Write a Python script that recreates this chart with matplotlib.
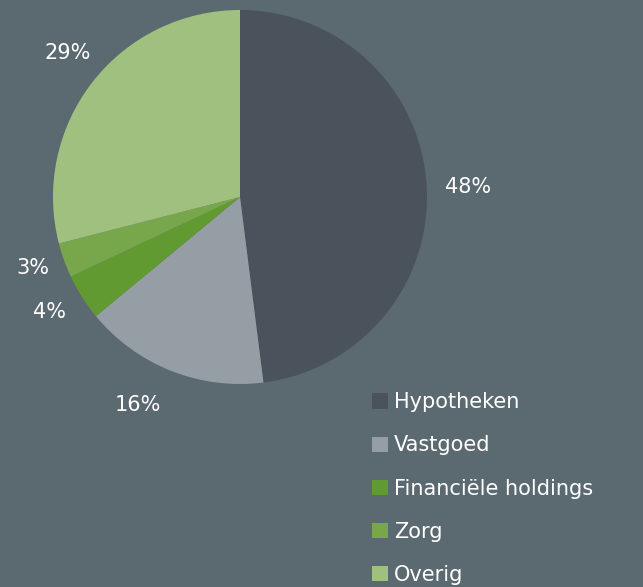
import matplotlib; matplotlib.use('agg')
import matplotlib.pyplot as plt
from matplotlib.patches import Patch
import numpy as np

# data
labels = ['Hypotheken', 'Vastgoed', 'Financiële holdings', 'Zorg', 'Overig']
shares = [48, 16, 4, 3, 29]
colors = ['#4a535b', '#959ea5', '#629a32', '#78a74b', '#a0c080']
bg = '#5b6970'

# label placement tweaks (degrees shift from wedge middle, radius)
lab_shift = [-1.0, -4.5, -1.4, -0.8, -2.0]
lab_rad = [1.22, 1.24, 1.19, 1.17, 1.20]

plt.rcParams['font.family'] = ['DejaVu Sans']

fig = plt.figure(figsize=(6.43, 5.87), dpi=100, facecolor=bg)
# pie centre at about (240, 197) px, radius 187 px
ax = fig.add_axes([53/643, (587-384)/587, 374/643, 374/587])
ax.set_facecolor(bg)

wedges, _ = ax.pie(shares, colors=colors, startangle=90, counterclock=False,
                   wedgeprops=dict(linewidth=0))
for w, s, sh, r in zip(wedges, shares, lab_shift, lab_rad):
    a = np.deg2rad((w.theta1 + w.theta2) / 2 + sh)
    ax.text(r*np.cos(a), r*np.sin(a), '%d%%' % s, color='white', fontsize=15,
            ha='center', va='center')
ax.set_xlim(-1, 1)
ax.set_ylim(-1, 1)
ax.set_aspect('equal')
ax.axis('off')

handles = [Patch(facecolor=c, edgecolor='none') for c in colors]
leg = fig.legend(handles, labels, loc='upper left', bbox_to_anchor=(364/643, 1-384/587),
                 frameon=False, fontsize=15, labelcolor='white',
                 handlelength=0.75, handleheight=0.75, handletextpad=0.3,
                 labelspacing=1.11, borderaxespad=0)

fig.savefig('out.png', facecolor=bg)
